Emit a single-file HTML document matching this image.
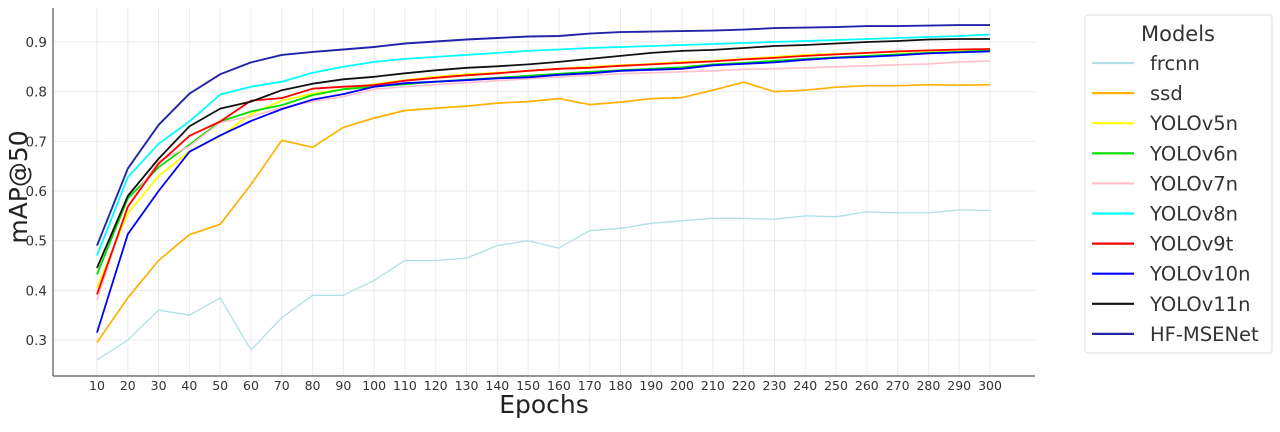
<!DOCTYPE html>
<html><head><meta charset="utf-8"><style>
body{margin:0;background:#fff;width:1280px;height:427px;overflow:hidden;font-family:"Liberation Sans","DejaVu Sans",sans-serif}
svg text{font-family:"DejaVu Sans","Liberation Sans",sans-serif}
</style></head><body>
<svg id="s" width="1280" height="427" viewBox="0 0 1280 427" xmlns="http://www.w3.org/2000/svg"></svg>
<script>
const s=document.getElementById('s');
const X=e=>97+(e-10)*(990-97)/290, Y=v=>42+(0.9-v)*(340-42)/0.6;
let h='';
for(let e=10;e<=300;e+=10){h+=`<line x1="${X(e)}" y1="8" x2="${X(e)}" y2="376" stroke="#ebebeb" stroke-width="1"/>`;
h+=`<text x="${X(e)}" y="390" font-size="12.5" fill="#333" text-anchor="middle">${e}</text>`;}
for(let v=3;v<=9;v++){const y=Y(v/10);h+=`<line x1="53" y1="${y}" x2="1035" y2="${y}" stroke="#ebebeb" stroke-width="1"/>`;
h+=`<text x="47" y="${y+5}" font-size="13.5" fill="#333" text-anchor="end">0.${v}</text>`;}
h+=`<line x1="53" y1="8" x2="53" y2="376" stroke="#555" stroke-width="1.2"/><line x1="53" y1="376" x2="1035" y2="376" stroke="#555" stroke-width="1.2"/>`;
h+=`<text x="544" y="413" font-size="25" fill="#222" text-anchor="middle">Epochs</text>`;
h+=`<text transform="translate(27,187) rotate(-90)" font-size="25" fill="#222" text-anchor="middle">mAP@50</text>`;
const D=[
["frcnn","#b0e0e6",1.3,[.26,.30,.36,.35,.385,.28,.345,.39,.39,.42,.46,.46,.465,.49,.50,.485,.52,.525,.535,.54,.545,.545,.543,.55,.548,.558,.556,.556,.562,.561]],
["ssd","#ffb000",1.7,[.295,.385,.46,.512,.533,.613,.702,.688,.728,.747,.762,.767,.771,.777,.780,.786,.774,.779,.786,.788,.803,.819,.800,.803,.809,.812,.812,.814,.813,.814]],
["YOLOv5n","#ffff00",1.8,[.405,.555,.63,.68,.71,.755,.782,.796,.805,.815,.823,.83,.835,.838,.842,.846,.85,.853,.856,.86,.862,.866,.87,.874,.876,.878,.88,.882,.884,.885]],
["YOLOv6n","#00dd00",1.8,[.432,.585,.648,.693,.74,.76,.773,.793,.805,.81,.815,.82,.824,.828,.832,.836,.84,.843,.846,.849,.855,.858,.862,.866,.869,.872,.875,.878,.88,.883]],
["YOLOv7n","#ffc0cb",1.6,[.38,.57,.66,.69,.738,.75,.768,.78,.79,.805,.81,.814,.818,.822,.826,.83,.833,.836,.838,.84,.842,.845,.846,.848,.85,.852,.854,.856,.86,.862]],
["YOLOv8n","#00ffff",1.8,[.47,.628,.695,.74,.794,.81,.82,.838,.85,.86,.866,.87,.874,.878,.882,.885,.888,.89,.892,.894,.896,.898,.9,.902,.904,.906,.908,.91,.912,.915]],
["YOLOv9t","#ff0000",1.8,[.392,.568,.655,.711,.74,.782,.787,.806,.81,.813,.822,.828,.833,.837,.842,.846,.848,.852,.855,.858,.861,.865,.868,.872,.875,.878,.881,.883,.885,.886]],
["YOLOv10n","#0000ff",1.8,[.315,.513,.6,.679,.712,.741,.765,.784,.795,.81,.817,.82,.823,.827,.829,.834,.837,.842,.844,.846,.853,.856,.859,.864,.868,.87,.873,.877,.879,.881]],
["YOLOv11n","#111111",1.8,[.445,.59,.665,.73,.766,.78,.803,.816,.825,.83,.837,.843,.848,.851,.855,.86,.866,.872,.878,.882,.884,.888,.892,.894,.897,.9,.902,.905,.906,.906]],
["HF-MSENet","#2424a8",1.9,[.49,.645,.733,.796,.835,.859,.874,.880,.885,.890,.897,.901,.905,.908,.911,.912,.917,.920,.921,.922,.923,.925,.928,.929,.930,.932,.932,.933,.934,.934]]];
D.forEach(d=>{h+=`<polyline fill="none" stroke="${d[1]}" stroke-width="${d[2]}" stroke-linejoin="round" points="${d[3].map((v,i)=>X(10+10*i).toFixed(1)+','+Y(v).toFixed(1)).join(' ')}"/>`;});
h+=`<rect x="1085" y="15" width="187" height="338" rx="3" fill="#fff" stroke="#ddd"/>`;
h+=`<text x="1178" y="41" font-size="21" fill="#333" text-anchor="middle">Models</text>`;
D.forEach((d,i)=>{const y=63+i*30.1;h+=`<line x1="1092" y1="${y}" x2="1134" y2="${y}" stroke="${d[1]}" stroke-width="2.2"/>`;
h+=`<text x="1150" y="${y+7}" font-size="19.5" fill="#333">${d[0]}</text>`;});
s.innerHTML=h;
</script>
</body></html>
